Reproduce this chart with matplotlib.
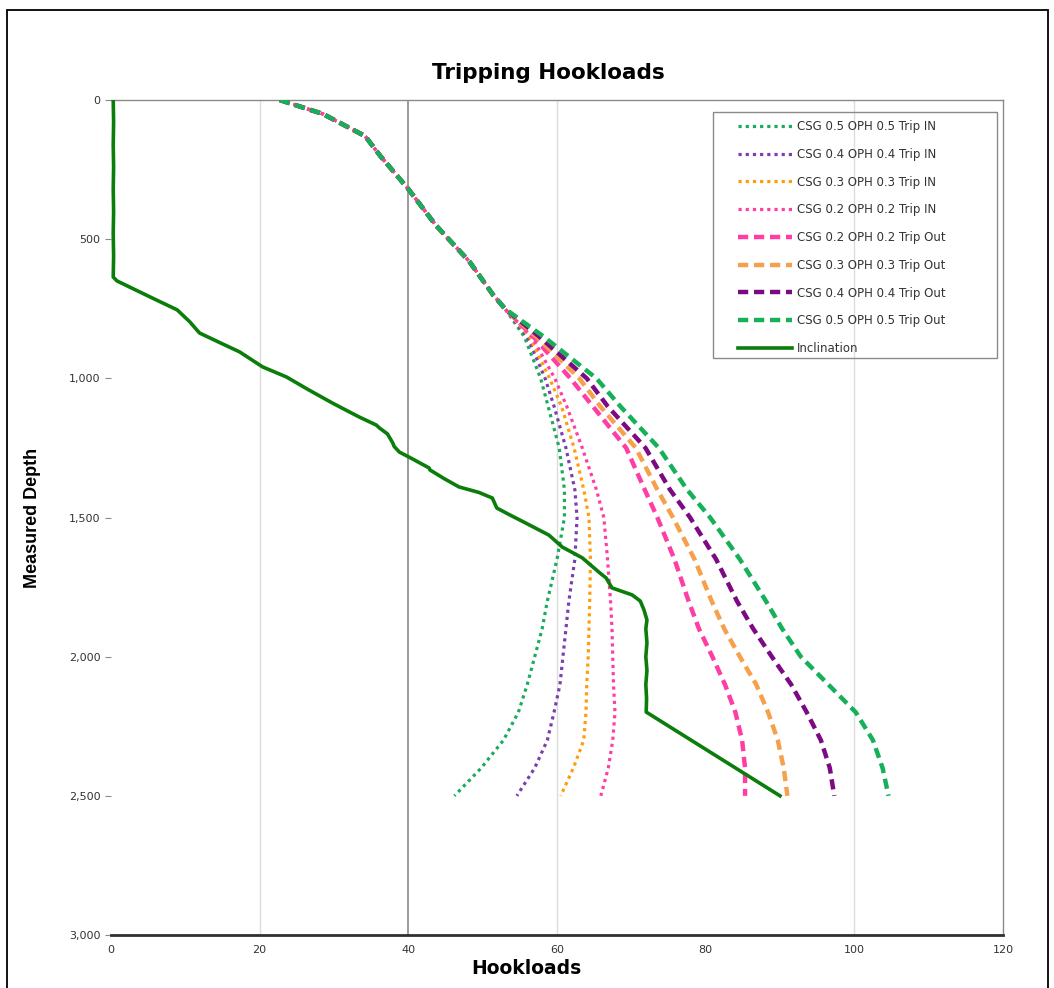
import matplotlib
matplotlib.use("Agg")
import matplotlib.pyplot as plt
from matplotlib.patches import Rectangle
from matplotlib.ticker import FuncFormatter

# Depth stations (ft) shared by the hookload curves
depth = [0, 50, 130, 200, 320, 450, 580, 700, 750, 850, 1000, 1100, 1250,
         1400, 1500, 1650, 1800, 1900, 2000, 2100, 2200, 2300, 2400, 2500]

# Common upper section of every hookload curve
trunk = [22.7, 28.5, 34.2, 36.2, 40.0, 43.7, 48.2, 51.4, 53.0]

# Trip IN hookloads (below the common section)
trip_in_05 = trunk + [55.6, 57.8, 58.8, 60.3, 61.0, 61.0, 60.0, 58.7, 58.0, 57.0, 56.0, 54.8, 52.8, 49.8, 46.2]
trip_in_04 = trunk + [56.0, 58.4, 59.6, 61.2, 62.4, 62.7, 62.4, 61.6, 61.2, 60.8, 60.4, 59.6, 58.7, 57.0, 54.6]
trip_in_03 = trunk + [56.3, 59.0, 60.6, 62.3, 63.6, 64.3, 64.5, 64.4, 64.3, 64.2, 64.0, 63.9, 63.6, 62.2, 60.5]
trip_in_02 = trunk + [56.6, 59.7, 61.3, 63.4, 65.3, 66.3, 66.8, 67.2, 67.4, 67.5, 67.6, 67.8, 67.5, 66.9, 65.9]

# Trip Out hookloads
trip_out_02 = trunk + [56.8, 61.8, 64.8, 69.3, 71.8, 73.5, 75.8, 77.7, 79.1, 80.9, 82.6, 84.0, 84.9, 85.3, 85.3]
trip_out_03 = trunk + [57.2, 63.0, 65.8, 70.6, 73.5, 75.6, 78.5, 80.8, 82.5, 84.6, 86.8, 88.4, 89.7, 90.5, 91.0]
trip_out_04 = trunk + [57.6, 64.0, 66.8, 71.9, 75.2, 77.9, 81.4, 84.2, 86.4, 88.9, 91.5, 93.6, 95.5, 96.7, 97.3]
trip_out_05 = trunk + [58.2, 65.3, 68.5, 73.7, 77.5, 80.6, 84.6, 88.1, 90.3, 92.8, 96.5, 100.2, 102.5, 103.8, 104.6]

# Inclination trace plotted on the hookload scale
incl_depth = [0, 80, 160, 240, 320, 400, 480, 560, 636, 650, 712, 754, 797, 837,
              870, 905, 959, 995, 1040, 1089, 1121, 1139, 1168, 1178, 1200, 1232,
              1245, 1265, 1283, 1322, 1329, 1360, 1390, 1410, 1430, 1466, 1490,
              1520, 1563, 1606, 1645, 1700, 1717, 1753, 1778, 1800, 1832, 1868,
              1900, 1950, 2000, 2050, 2100, 2150, 2199, 2500]
incl_value = [0.3, 0.35, 0.3, 0.35, 0.3, 0.35, 0.3, 0.35, 0.3, 0.8, 5.6, 8.9, 10.6, 11.9,
              14.5, 17.3, 20.4, 23.6, 26.5, 29.8, 32.1, 33.4, 35.7, 36.1, 37.2, 37.9,
              38.1, 38.8, 40.1, 42.8, 42.9, 44.8, 46.8, 49.5, 51.3, 51.9, 53.6,
              55.8, 58.9, 60.7, 63.4, 65.8, 66.6, 67.4, 70.1, 71.2, 71.7, 72.1,
              71.95, 72.1, 71.95, 72.1, 71.95, 72.05, 72.0, 90.0]

x_ticks = [0, 20, 40, 60, 80, 100, 120]
y_ticks = [0, 500, 1000, 1500, 2000, 2500, 3000]

series = [
    ("CSG 0.5 OPH 0.5 Trip IN", trip_in_05, "#1aab5c", "dot"),
    ("CSG 0.4 OPH 0.4 Trip IN", trip_in_04, "#7b3fb0", "dot"),
    ("CSG 0.3 OPH 0.3 Trip IN", trip_in_03, "#ff9d0a", "dot"),
    ("CSG 0.2 OPH 0.2 Trip IN", trip_in_02, "#ff3ea5", "dot"),
    ("CSG 0.2 OPH 0.2 Trip Out", trip_out_02, "#ff3ea5", "dash"),
    ("CSG 0.3 OPH 0.3 Trip Out", trip_out_03, "#f7a04c", "dash"),
    ("CSG 0.4 OPH 0.4 Trip Out", trip_out_04, "#7c0a82", "dash"),
    ("CSG 0.5 OPH 0.5 Trip Out", trip_out_05, "#17b05a", "dash"),
]

plt.rcParams["font.family"] = ["DejaVu Sans"]

fig = plt.figure(figsize=(10.54, 9.88), dpi=100)
ax = fig.add_axes([111 / 1054, 53 / 988, 892 / 1054, 835 / 988])

# vertical grid: light lines with a darker one at 40
for xv in [20, 60, 100]:
    ax.axvline(xv, color="#dcdcdc", lw=1.0, zorder=0)
ax.axvline(40, color="#8a8a8a", lw=1.2, zorder=0)

for label, vals, color, style in series:
    if style == "dot":
        ax.plot(vals, depth, color=color, lw=2.3, linestyle=(0, (1, 1.25)),
                solid_capstyle="butt", label=label, zorder=3)
    else:
        ax.plot(vals, depth, color=color, lw=3.2, linestyle=(0, (2.3, 1.3)),
                label=label, zorder=3)

ax.plot(incl_value, incl_depth, color="#0b7d0b", lw=2.6, label="Inclination", zorder=4)

ax.set_xlim(0, 120)
ax.set_ylim(3000, 0)
ax.set_xticks(x_ticks)
ax.set_yticks(y_ticks)
ax.yaxis.set_major_formatter(FuncFormatter(lambda v, p: f"{int(v):,}"))

ax.spines["left"].set_visible(False)
ax.spines["top"].set_color("#8a8a8a")
ax.spines["right"].set_color("#8a8a8a")
ax.spines["top"].set_linewidth(1.0)
ax.spines["right"].set_linewidth(1.0)
ax.spines["bottom"].set_color("#303030")
ax.spines["bottom"].set_linewidth(2.0)

ax.tick_params(axis="x", length=0, pad=7, labelsize=8, labelcolor="#333333")
ax.tick_params(axis="y", length=4, width=0.8, color="#8a8a8a", pad=3.5,
               labelsize=8, labelcolor="#333333")

ax.set_xlabel("Hookloads", fontsize=13.5, fontweight="bold", labelpad=3, x=0.466)
ax.set_ylabel("Measured Depth", fontsize=13, fontweight="bold", labelpad=20,
              family=["Liberation Sans Narrow", "Liberation Sans", "DejaVu Sans"])
ax.set_title("Tripping Hookloads", fontsize=15.5, fontweight="bold", pad=15, x=0.49)

leg = ax.legend(loc="upper left", bbox_to_anchor=(0.703, 0.976),
                prop={"family": "DejaVu Sans", "size": 8.5},
                frameon=False, handlelength=4.6, handletextpad=0.42,
                labelspacing=1.25, borderpad=0, borderaxespad=0)
for t in leg.get_texts():
    t.set_color("#333333")

# legend box
ax.add_patch(Rectangle((0.675, 0.691), 0.3183, 0.2946, transform=ax.transAxes,
                       fill=False, edgecolor="#8a8a8a", lw=1.0, zorder=5,
                       clip_on=False))

# outer chart frame
fig.patches.append(Rectangle((7 / 1054, -0.01), 1041 / 1054, 978 / 988 + 0.01,
                             transform=fig.transFigure, fill=False,
                             edgecolor="black", lw=1.3))

fig.savefig("out.png", dpi=100, facecolor="white")
